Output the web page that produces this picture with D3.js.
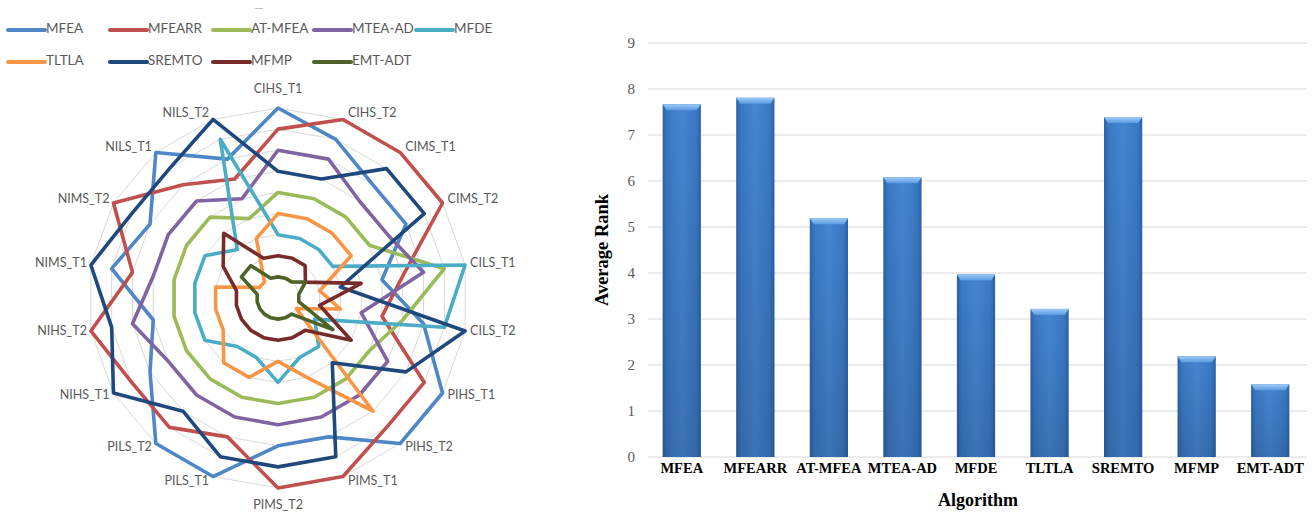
<!DOCTYPE html>
<html>
<head>
<meta charset="utf-8">
<script src="https://cdn.jsdelivr.net/npm/d3@7"></script>
<style>
  html, body { margin: 0; padding: 0; background: #fff; }
  svg { display: block; }
</style>
</head>
<body>
<svg id="chart" width="1316" height="518"></svg>
<script>
// ---- data -------------------------------------------------------------
const tasks = ["CIHS_T1","CIHS_T2","CIMS_T1","CIMS_T2","CILS_T1","CILS_T2",
               "PIHS_T1","PIHS_T2","PIMS_T1","PIMS_T2","PILS_T1","PILS_T2",
               "NIHS_T1","NIHS_T2","NIMS_T1","NIMS_T2","NILS_T1","NILS_T2"];
const algorithms = ["MFEA","MFEARR","AT-MFEA","MTEA-AD","MFDE","TLTLA","SREMTO","MFMP","EMT-ADT"];

// rank of each algorithm on each task (same order as `tasks`)
const rankMFEA    = [9,8,7,7,5,7,9,9,7,7,9,9,7,6,8,7,9,7];
const rankMFEARR  = [8,9,9,9,6,5,8,8,9,9,7,8,8,9,7,9,7,6];
const rankATMFEA  = [5,5,5,5,8,6,5,5,5,5,5,5,5,5,5,5,5,4];
const rankMTEAAD  = [7,7,6,6,7,4,6,6,6,6,6,6,6,7,6,6,6,5];
const rankMFDE    = [3,3,3,3,9,8,2,3,3,4,3,3,4,4,4,4,3,8];
const rankTLTLA   = [4,4,4,4,2,3,1,7,4,3,4,4,3,3,3,1,1,3];
const rankSREMTO  = [6,6,8,8,3,9,7,4,8,8,8,7,9,8,9,8,8,9];
const rankMFMP    = [2,2,2,1.5,4,2,4,2,2,2,2,2,2,2,2,3,4,2];
const rankEMTADT  = [1,1,1,1.5,1,1,3,1,1,1,1,1,1,1,1,2,2,1];

const averageRank = [7.67, 7.81, 5.19, 6.08, 3.97, 3.22, 7.39, 2.19, 1.58];
const rankTicks   = [0,1,2,3,4,5,6,7,8,9];
const ringLevels  = [1,2,3,4,5,6,7,8,9];

const seriesColors = ["#4f86c6","#c0504d","#9bbb59","#8064a2","#4bacc6",
                      "#f79646","#1f497d","#772c2a","#4f6228"];
const seriesRanks = [rankMFEA, rankMFEARR, rankATMFEA, rankMTEAAD, rankMFDE,
                     rankTLTLA, rankSREMTO, rankMFMP, rankEMTADT];

const svg = d3.select("#chart");
const labelFont = "Lato, 'Liberation Sans', sans-serif";

// ---- radar chart ------------------------------------------------------
const cx = 278, cy = 298, R = 190;
const rScale = d3.scaleLinear().domain([0, 9]).range([0, R]);
const angle = d3.scaleLinear().domain([0, tasks.length]).range([0, 2 * Math.PI]);

const radar = svg.append("g").attr("transform", `translate(${cx},${cy})`);

const ringLine = d3.lineRadial()
  .angle((d, i) => angle(i))
  .radius(d => rScale(d))
  .curve(d3.curveLinearClosed);

radar.append("g").selectAll("path")
  .data(ringLevels)
  .join("path")
  .attr("d", lvl => ringLine(tasks.map(() => lvl)))
  .attr("fill", "none")
  .attr("stroke", "#d9d9d9")
  .attr("stroke-width", 1);

const seriesLine = d3.lineRadial()
  .angle((d, i) => angle(i))
  .radius(d => rScale(d))
  .curve(d3.curveLinearClosed);

radar.append("g").selectAll("path")
  .data(seriesRanks)
  .join("path")
  .attr("d", d => seriesLine(d))
  .attr("fill", "none")
  .attr("stroke", (d, i) => seriesColors[i])
  .attr("stroke-width", 3.6)
  .attr("stroke-linejoin", "round");

// task labels around the outer ring
radar.append("g").selectAll("text")
  .data(tasks)
  .join("text")
  .each(function(name, i) {
    const a = angle(i);
    const s = Math.sin(a), c = Math.cos(a);
    const vx = rScale(9) * s, vy = -rScale(9) * c;
    const t = d3.select(this);
    if (Math.abs(s) < 0.05) {
      t.attr("x", vx).attr("y", vy - 18 * c).attr("text-anchor", "middle");
    } else if (s > 0) {
      t.attr("x", vx + 5).attr("y", vy - 6 * c).attr("text-anchor", "start");
    } else {
      t.attr("x", vx - 4).attr("y", vy - 6 * c).attr("text-anchor", "end");
    }
  })
  .attr("dominant-baseline", "middle")
  .attr("font-family", labelFont)
  .attr("font-size", 12.5)
  .attr("fill", "#595959")
  .text(d => d);

// legend (two rows)
const legendPos = [[8,30],[110,30],[213,30],[314,30],[416,30],
                   [8,62],[110,62],[213,62],[314,62]];
const legend = svg.append("g").selectAll("g")
  .data(algorithms)
  .join("g")
  .attr("transform", (d, i) => `translate(${legendPos[i][0]},${legendPos[i][1]})`);
legend.append("line")
  .attr("x1", 0).attr("x2", 37).attr("y1", 0).attr("y2", 0)
  .attr("stroke", (d, i) => seriesColors[i])
  .attr("stroke-width", 4)
  .attr("stroke-linecap", "round");
legend.append("text")
  .attr("x", 38).attr("y", 0)
  .attr("dominant-baseline", "middle")
  .attr("font-family", labelFont)
  .attr("font-size", 13.5)
  .attr("fill", "#595959")
  .text(d => d);

// faint title placeholder mark
svg.append("line")
  .attr("x1", 255).attr("x2", 263).attr("y1", 8.5).attr("y2", 8.5)
  .attr("stroke", "#bfbfbf").attr("stroke-width", 1);

// ---- bar chart --------------------------------------------------------
const plot = { left: 645, right: 1307, top: 43, bottom: 457 };
const x = d3.scaleBand().domain(algorithms)
  .range([plot.left, plot.right]).paddingInner(0.48).paddingOuter(0.24);
const y = d3.scaleLinear().domain([0, 9]).range([plot.bottom, plot.top]);

const defs = svg.append("defs");
const g1 = defs.append("linearGradient").attr("id", "barBody")
  .attr("x1", "0%").attr("x2", "100%").attr("y1", "0%").attr("y2", "0%");
[["0%","#2d62a8"],["12%","#3a78c4"],["50%","#4586d2"],["88%","#3a78c4"],["100%","#2d62a8"]]
  .forEach(([o, c]) => g1.append("stop").attr("offset", o).attr("stop-color", c));
const g2 = defs.append("linearGradient").attr("id", "barShade")
  .attr("x1", "0%").attr("x2", "0%").attr("y1", "0%").attr("y2", "100%");
g2.append("stop").attr("offset", "0%").attr("stop-color", "#000").attr("stop-opacity", 0);
g2.append("stop").attr("offset", "100%").attr("stop-color", "#000").attr("stop-opacity", 0.14);
const g3 = defs.append("linearGradient").attr("id", "barCap")
  .attr("x1", "0%").attr("x2", "0%").attr("y1", "0%").attr("y2", "100%");
g3.append("stop").attr("offset", "0%").attr("stop-color", "#9ccaf5");
g3.append("stop").attr("offset", "100%").attr("stop-color", "#5b9be2");

const bars = svg.append("g");

// horizontal grid lines
bars.append("g").selectAll("line")
  .data(rankTicks)
  .join("line")
  .attr("x1", plot.left + 3).attr("x2", plot.right)
  .attr("y1", d => y(d)).attr("y2", d => y(d))
  .attr("stroke", "#d9d9d9").attr("stroke-width", 1.2);

const barData = algorithms.map((a, i) => ({ name: a, value: averageRank[i] }));
const barG = bars.append("g").selectAll("g").data(barData).join("g");
barG.append("rect")
  .attr("x", d => x(d.name)).attr("width", x.bandwidth())
  .attr("y", d => y(d.value)).attr("height", d => y(0) - y(d.value))
  .attr("fill", "url(#barBody)");
barG.append("rect")
  .attr("x", d => x(d.name)).attr("width", x.bandwidth())
  .attr("y", d => y(d.value)).attr("height", d => y(0) - y(d.value))
  .attr("fill", "url(#barShade)");
barG.append("path")
  .attr("d", d => {
    const x0 = x(d.name), w = x.bandwidth(), t = y(d.value);
    return `M${x0},${t}L${x0 + w},${t}L${x0 + w - 4},${t + 6}L${x0 + 4},${t + 6}Z`;
  })
  .attr("fill", "url(#barCap)");

// y axis tick labels
const yAxis = d3.axisLeft(y).tickValues(rankTicks).tickSize(0).tickPadding(0);
bars.append("g")
  .attr("transform", `translate(${plot.left - 10},0)`)
  .call(yAxis)
  .call(g => g.select(".domain").remove())
  .selectAll("text")
  .attr("font-family", "'Liberation Serif', serif")
  .attr("font-size", 15)
  .attr("fill", "#595959");

// x axis category labels
const xAxis = d3.axisBottom(x).tickSize(0).tickPadding(0);
bars.append("g")
  .attr("transform", `translate(0,${plot.bottom + 6})`)
  .call(xAxis)
  .call(g => g.select(".domain").remove())
  .selectAll("text")
  .attr("font-family", "'Liberation Serif', serif")
  .attr("font-weight", "bold")
  .attr("font-size", 14.5)
  .attr("fill", "#000");

bars.append("text")
  .attr("x", 978).attr("y", 506)
  .attr("text-anchor", "middle")
  .attr("font-family", "'Liberation Serif', serif")
  .attr("font-weight", "bold")
  .attr("font-size", 18)
  .text("Algorithm");

bars.append("text")
  .attr("transform", "translate(608,250) rotate(-90)")
  .attr("text-anchor", "middle")
  .attr("font-family", "'Liberation Serif', serif")
  .attr("font-weight", "bold")
  .attr("font-size", 18.5)
  .text("Average Rank");
</script>
</body>
</html>
